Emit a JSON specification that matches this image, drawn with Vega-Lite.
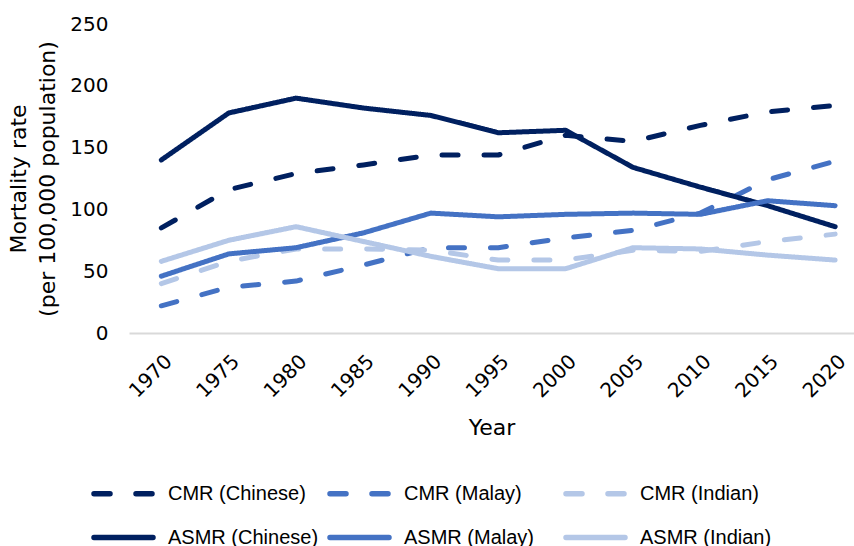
{
  "$schema": "https://vega.github.io/schema/vega-lite/v6.json",
  "width": 725,
  "height": 309,
  "autosize": "none",
  "padding": {"left": 129, "top": 24, "right": 0, "bottom": 213},
  "background": "white",
  "config": {"view": {"stroke": null}, "font": "DejaVu Sans"},
  "data": {"values": [
    {"year": 1970, "series": "CMR (Chinese)", "rate": 85},
    {"year": 1975, "series": "CMR (Chinese)", "rate": 116},
    {"year": 1980, "series": "CMR (Chinese)", "rate": 129},
    {"year": 1985, "series": "CMR (Chinese)", "rate": 136},
    {"year": 1990, "series": "CMR (Chinese)", "rate": 144},
    {"year": 1995, "series": "CMR (Chinese)", "rate": 144},
    {"year": 2000, "series": "CMR (Chinese)", "rate": 160},
    {"year": 2005, "series": "CMR (Chinese)", "rate": 155},
    {"year": 2010, "series": "CMR (Chinese)", "rate": 168},
    {"year": 2015, "series": "CMR (Chinese)", "rate": 179},
    {"year": 2020, "series": "CMR (Chinese)", "rate": 184},
    {"year": 1970, "series": "CMR (Malay)", "rate": 22},
    {"year": 1975, "series": "CMR (Malay)", "rate": 37},
    {"year": 1980, "series": "CMR (Malay)", "rate": 42},
    {"year": 1985, "series": "CMR (Malay)", "rate": 55},
    {"year": 1990, "series": "CMR (Malay)", "rate": 69},
    {"year": 1995, "series": "CMR (Malay)", "rate": 69},
    {"year": 2000, "series": "CMR (Malay)", "rate": 77},
    {"year": 2005, "series": "CMR (Malay)", "rate": 83},
    {"year": 2010, "series": "CMR (Malay)", "rate": 97},
    {"year": 2015, "series": "CMR (Malay)", "rate": 124},
    {"year": 2020, "series": "CMR (Malay)", "rate": 139},
    {"year": 1970, "series": "CMR (Indian)", "rate": 40},
    {"year": 1975, "series": "CMR (Indian)", "rate": 58},
    {"year": 1980, "series": "CMR (Indian)", "rate": 68},
    {"year": 1985, "series": "CMR (Indian)", "rate": 68},
    {"year": 1990, "series": "CMR (Indian)", "rate": 67},
    {"year": 1995, "series": "CMR (Indian)", "rate": 59},
    {"year": 2000, "series": "CMR (Indian)", "rate": 59},
    {"year": 2005, "series": "CMR (Indian)", "rate": 67},
    {"year": 2010, "series": "CMR (Indian)", "rate": 66},
    {"year": 2015, "series": "CMR (Indian)", "rate": 74},
    {"year": 2020, "series": "CMR (Indian)", "rate": 80},
    {"year": 1970, "series": "ASMR (Chinese)", "rate": 140},
    {"year": 1975, "series": "ASMR (Chinese)", "rate": 178},
    {"year": 1980, "series": "ASMR (Chinese)", "rate": 190},
    {"year": 1985, "series": "ASMR (Chinese)", "rate": 182},
    {"year": 1990, "series": "ASMR (Chinese)", "rate": 176},
    {"year": 1995, "series": "ASMR (Chinese)", "rate": 162},
    {"year": 2000, "series": "ASMR (Chinese)", "rate": 164},
    {"year": 2005, "series": "ASMR (Chinese)", "rate": 134},
    {"year": 2010, "series": "ASMR (Chinese)", "rate": 118},
    {"year": 2015, "series": "ASMR (Chinese)", "rate": 103},
    {"year": 2020, "series": "ASMR (Chinese)", "rate": 86},
    {"year": 1970, "series": "ASMR (Malay)", "rate": 46},
    {"year": 1975, "series": "ASMR (Malay)", "rate": 64},
    {"year": 1980, "series": "ASMR (Malay)", "rate": 69},
    {"year": 1985, "series": "ASMR (Malay)", "rate": 81},
    {"year": 1990, "series": "ASMR (Malay)", "rate": 97},
    {"year": 1995, "series": "ASMR (Malay)", "rate": 94},
    {"year": 2000, "series": "ASMR (Malay)", "rate": 96},
    {"year": 2005, "series": "ASMR (Malay)", "rate": 97},
    {"year": 2010, "series": "ASMR (Malay)", "rate": 96},
    {"year": 2015, "series": "ASMR (Malay)", "rate": 107},
    {"year": 2020, "series": "ASMR (Malay)", "rate": 103},
    {"year": 1970, "series": "ASMR (Indian)", "rate": 58},
    {"year": 1975, "series": "ASMR (Indian)", "rate": 75},
    {"year": 1980, "series": "ASMR (Indian)", "rate": 86},
    {"year": 1985, "series": "ASMR (Indian)", "rate": 74},
    {"year": 1990, "series": "ASMR (Indian)", "rate": 62},
    {"year": 1995, "series": "ASMR (Indian)", "rate": 52},
    {"year": 2000, "series": "ASMR (Indian)", "rate": 52},
    {"year": 2005, "series": "ASMR (Indian)", "rate": 69},
    {"year": 2010, "series": "ASMR (Indian)", "rate": 68},
    {"year": 2015, "series": "ASMR (Indian)", "rate": 63},
    {"year": 2020, "series": "ASMR (Indian)", "rate": 59}
  ]},
  "mark": {"type": "line", "strokeWidth": 5, "strokeCap": "round", "strokeJoin": "round"},
  "encoding": {
    "x": {
      "field": "year", "type": "quantitative",
      "scale": {"domain": [1967.6, 2021.4], "nice": false, "zero": false},
      "axis": {
        "values": [1970, 1975, 1980, 1985, 1990, 1995, 2000, 2005, 2010, 2015, 2020],
        "format": "d", "labelAngle": -45, "labelPadding": 18,
        "ticks": false, "tickSize": 0, "grid": false,
        "domainColor": "#d9d9d9", "domainWidth": 2,
        "labelFontSize": 20, "labelColor": "#000000",
        "title": "Year", "titleFontSize": 22, "titleFontWeight": "normal", "titleColor": "#000000", "titlePadding": 16
      }
    },
    "y": {
      "field": "rate", "type": "quantitative",
      "scale": {"domain": [0, 250], "nice": false},
      "axis": {
        "values": [0, 50, 100, 150, 200, 250],
        "domain": false, "ticks": false, "tickSize": 0, "grid": false,
        "labelPadding": 21, "labelFontSize": 20, "labelColor": "#000000",
        "title": ["Mortality rate", "(per 100,000 population)"],
        "titleFontSize": 22, "titleFontWeight": "normal", "titleColor": "#000000", "titlePadding": 10, "titleLineHeight": 29
      }
    },
    "color": {
      "field": "series", "type": "nominal",
      "scale": {
        "domain": ["CMR (Chinese)", "CMR (Malay)", "CMR (Indian)", "ASMR (Chinese)", "ASMR (Malay)", "ASMR (Indian)"],
        "range": ["#002060", "#4472C4", "#B4C7E7", "#002060", "#4472C4", "#B4C7E7"]
      },
      "legend": {
        "orient": "none", "legendX": -38, "legendY": 437, "direction": "horizontal", "columns": 3,
        "gridAlign": "all", "columnPadding": 0, "rowPadding": -16, "padding": 0,
        "title": null, "symbolType": "stroke", "symbolSize": 3481, "symbolStrokeWidth": 5.5,
        "labelFont": "Liberation Sans", "labelFontSize": 20, "labelColor": "#000000", "labelOffset": 12, "labelLimit": 300,
        "encode": {"symbols": {"update": {"strokeCap": {"value": "round"}}}}
      }
    },
    "strokeDash": {
      "field": "series", "type": "nominal",
      "scale": {
        "domain": ["CMR (Chinese)", "CMR (Malay)", "CMR (Indian)", "ASMR (Chinese)", "ASMR (Malay)", "ASMR (Indian)"],
        "range": [[16, 26], [16, 26], [16, 26], [1, 0], [1, 0], [1, 0]]
      },
      "legend": {
        "orient": "none", "legendX": -38, "legendY": 437, "direction": "horizontal", "columns": 3,
        "gridAlign": "all", "columnPadding": 0, "rowPadding": -16, "padding": 0,
        "title": null, "symbolType": "stroke", "symbolSize": 3481, "symbolStrokeWidth": 5.5,
        "labelFont": "Liberation Sans", "labelFontSize": 20, "labelColor": "#000000", "labelOffset": 12, "labelLimit": 300,
        "encode": {"symbols": {"update": {"strokeCap": {"value": "round"}}}}
      }
    }
  }
}
